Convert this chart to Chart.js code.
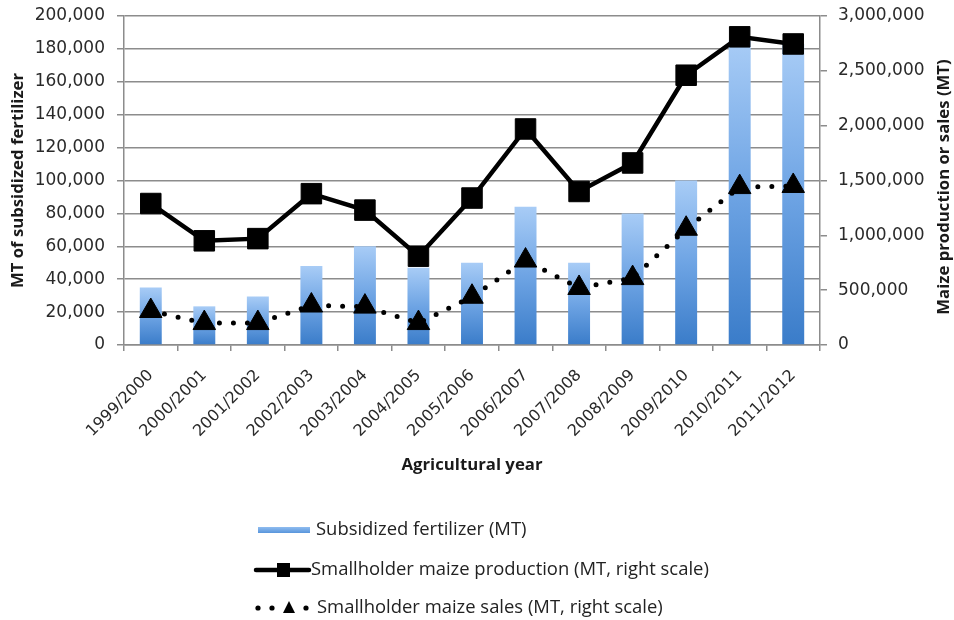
<!DOCTYPE html>
<html>
<head>
<meta charset="utf-8">
<script src="https://cdn.jsdelivr.net/npm/chart.js@4.4.1/dist/chart.umd.min.js"></script>
<style>
  html, body { margin: 0; padding: 0; background: #ffffff; }
  #c { display: block; }
</style>
</head>
<body>
<canvas id="c" width="954" height="620"></canvas>
<script>
// ---- data ----
const categories = ['1999/2000','2000/2001','2001/2002','2002/2003','2003/2004','2004/2005','2005/2006','2006/2007','2007/2008','2008/2009','2009/2010','2010/2011','2011/2012'];
const fertilizer = [35000, 23500, 29500, 48000, 60000, 47000, 50000, 84000, 50000, 80000, 100000, 185000, 183000];
const production = [1290000, 950000, 970000, 1380000, 1230000, 810000, 1340000, 1970000, 1400000, 1660000, 2460000, 2810000, 2745000];
const sales = [310000, 200000, 200000, 360000, 350000, 200000, 440000, 770000, 520000, 610000, 1060000, 1440000, 1450000];
const leftTicks = { min: 0, max: 200000, step: 20000 };
const rightTicks = { min: 0, max: 3000000, step: 500000 };
const seriesNames = ['Subsidized fertilizer (MT)', 'Smallholder maize production (MT, right scale)', 'Smallholder maize sales (MT, right scale)'];
const axisTitles = { x: 'Agricultural year', y: 'MT of subsidized fertilizer', y1: 'Maize production or sales (MT)' };

const GRID = '#8c8c8c';
const TICKFONT = { family: 'DejaVu Sans', size: 17 };
const fmt = v => Number(v).toLocaleString('en-US');

function barFill(ctx) {
  const chart = ctx.chart;
  if (!chart.chartArea || ctx.type !== 'data') return '#6fa5e5';
  const ys = chart.scales.y;
  const top = ys.getPixelForValue(ctx.raw);
  const bot = ys.getPixelForValue(0);
  const g = chart.ctx.createLinearGradient(0, top, 0, bot);
  g.addColorStop(0, '#a8ccf6');
  g.addColorStop(0.5, '#6ea4e4');
  g.addColorStop(1, '#3a7cc9');
  return g;
}

// choose a font size so a text spans a given width
function fitFont(c, text, width, weight, family) {
  c.font = weight + ' 20px ' + family;
  const w = c.measureText(text).width;
  const size = 20 * width / w;
  return weight + ' ' + size.toFixed(2) + 'px ' + family;
}

function fixVertical(width) {
  return s => { s.width = width; s.paddingTop = 0; s.paddingBottom = 0; };
}

const extras = {
  id: 'extras',
  afterDraw(chart) {
    const c = chart.ctx;
    const ca = chart.chartArea;
    c.save();
    // axis titles
    c.fillStyle = '#1a1a1a';
    c.textAlign = 'center';
    c.textBaseline = 'middle';
    c.font = fitFont(c, axisTitles.x, 141, 'bold', '"Open Sans"');
    c.fillText(axisTitles.x, (ca.left + ca.right) / 2, 465);
    c.save();
    c.translate(18, (ca.top + ca.bottom) / 2);
    c.rotate(-Math.PI / 2);
    c.fillText(axisTitles.y, 0, 0);
    c.restore();
    c.save();
    c.translate(944, 187);
    c.rotate(-Math.PI / 2);
    c.fillText(axisTitles.y1, 0, 0);
    c.restore();

    // legend
    c.font = fitFont(c, seriesNames[1], 398, 'normal', '"Open Sans"');
    c.textAlign = 'left';
    // row 1 : bar swatch
    const g = c.createLinearGradient(0, 527, 0, 534);
    g.addColorStop(0, '#8fbcf0');
    g.addColorStop(1, '#4f8fd8');
    c.fillStyle = g;
    c.fillRect(258, 527, 52, 6);
    c.fillStyle = '#222';
    c.fillText(seriesNames[0], 316, 530);
    // row 2 : solid line with square
    c.strokeStyle = '#000';
    c.lineWidth = 4.5;
    c.lineCap = 'round';
    c.beginPath(); c.moveTo(256, 570); c.lineTo(309, 570); c.stroke();
    c.fillStyle = '#000';
    c.fillRect(277, 563, 13, 14);
    c.fillStyle = '#222';
    c.fillText(seriesNames[1], 311, 570);
    // row 3 : dots with triangle
    c.fillStyle = '#000';
    [258, 272, 306].forEach(x => { c.beginPath(); c.arc(x, 608, 2.6, 0, Math.PI * 2); c.fill(); });
    c.beginPath(); c.moveTo(289, 601); c.lineTo(295, 613); c.lineTo(283, 613); c.closePath(); c.fill();
    c.fillStyle = '#222';
    c.fillText(seriesNames[2], 317, 608);
    c.restore();
  }
};

new Chart(document.getElementById('c'), {
  type: 'bar',
  data: {
    labels: categories,
    datasets: [
      {
        type: 'line', label: seriesNames[2], data: sales, yAxisID: 'y1', order: 1,
        borderColor: '#000', borderWidth: 5, borderDash: [0, 14], borderCapStyle: 'round',
        pointStyle: 'triangle', pointRadius: 13, pointBackgroundColor: '#000', pointBorderColor: '#000', pointBorderWidth: 1,
        tension: 0, fill: false
      },
      {
        type: 'line', label: seriesNames[1], data: production, yAxisID: 'y1', order: 2,
        borderColor: '#000', borderWidth: 4.5, borderJoinStyle: 'miter',
        pointStyle: 'rect', pointRadius: 14.5, pointBackgroundColor: '#000', pointBorderColor: '#000', pointBorderWidth: 1,
        tension: 0, fill: false
      },
      {
        type: 'bar', label: seriesNames[0], data: fertilizer, yAxisID: 'y', order: 3,
        backgroundColor: barFill, borderWidth: 0,
        categoryPercentage: 1, barPercentage: 0.41
      }
    ]
  },
  options: {
    responsive: false,
    animation: false,
    events: [],
    layout: { padding: { top: 16, bottom: 145, left: 0, right: 0 } },
    plugins: { legend: { display: false }, tooltip: { enabled: false } },
    scales: {
      x: {
        offset: true,
        grid: { offset: true, drawOnChartArea: false, drawTicks: true, tickLength: 6, color: GRID, lineWidth: 1.5 },
        border: { display: true, color: GRID, width: 1.5 },
        ticks: { autoSkip: false, minRotation: 45, maxRotation: 45, font: { family: 'DejaVu Sans', size: 16 }, color: '#2a2a2a', padding: 15 },
        afterFit: s => { s.height = 130; s.paddingLeft = 0; s.paddingRight = 0; }
      },
      y: {
        position: 'left', min: leftTicks.min, max: leftTicks.max,
        grid: { color: GRID, lineWidth: 1.5, tickLength: 7 },
        border: { display: true, color: GRID, width: 1.5 },
        ticks: { stepSize: leftTicks.step, callback: fmt, font: TICKFONT, color: '#2a2a2a', padding: 12 },
        afterFit: fixVertical(124)
      },
      y1: {
        position: 'right', min: rightTicks.min, max: rightTicks.max,
        grid: { drawOnChartArea: false, color: GRID, lineWidth: 1.5, tickLength: 7 },
        border: { display: true, color: GRID, width: 1.5 },
        ticks: { stepSize: rightTicks.step, callback: fmt, font: TICKFONT, color: '#2a2a2a', padding: 11 },
        afterFit: fixVertical(134)
      }
    }
  },
  plugins: [extras]
});
</script>
</body>
</html>
